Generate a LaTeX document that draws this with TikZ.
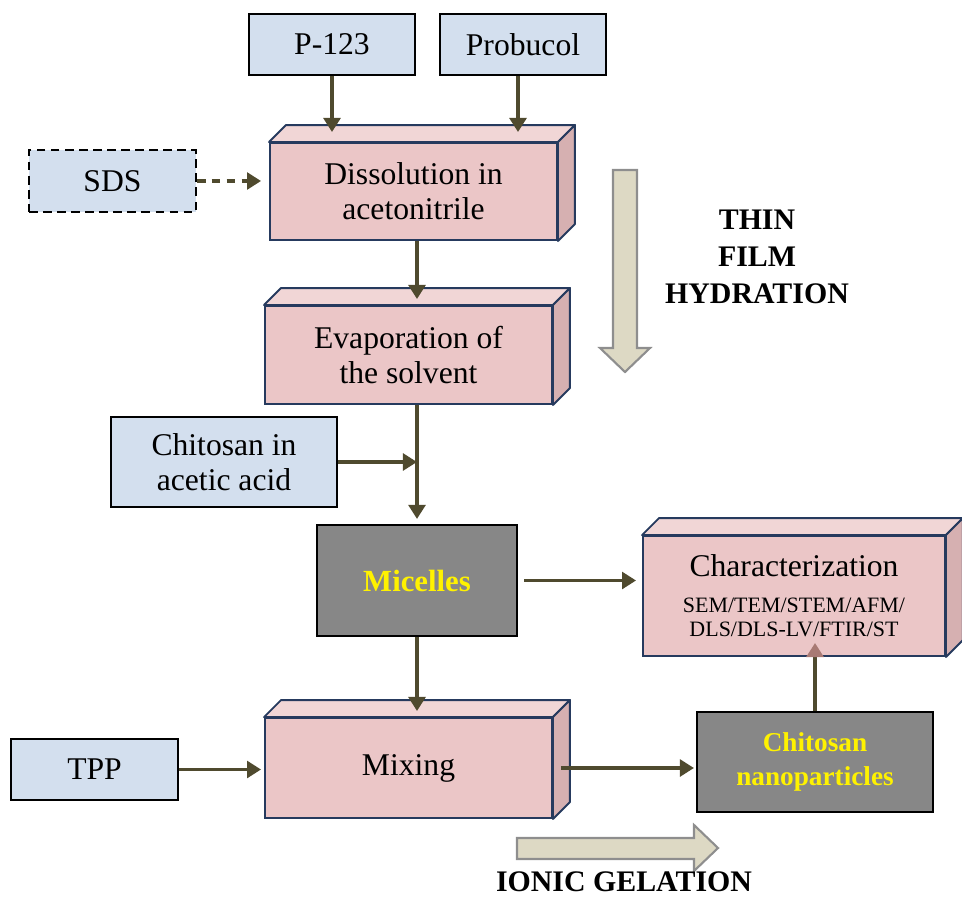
\documentclass[tikz,border=0pt]{standalone}
\usepackage{fontspec}
\setmainfont{Liberation Serif}
\usetikzlibrary{arrows.meta}

\definecolor{inblue}{HTML}{D3DFEE}
\definecolor{stepfront}{HTML}{EBC6C7}
\definecolor{steptop}{HTML}{F1D6D6}
\definecolor{stepside}{HTML}{D6B0B1}
\definecolor{stepline}{HTML}{263A5E}
\definecolor{flowc}{HTML}{4F4A2E}
\definecolor{tipc}{HTML}{A87A74}
\definecolor{bigfill}{HTML}{DDD9C4}
\definecolor{bigline}{HTML}{8E8E8E}
\definecolor{prodgray}{HTML}{878787}

% top and side faces of a step box
\newcommand{\cuboid}[1]{%
	\filldraw[stepface,fill=steptop] (#1.north west) -- ([shift={(17,-17)}]#1.north west) -- ([shift={(17,-17)}]#1.north east) -- (#1.north east) -- cycle;
	\filldraw[stepface,fill=stepside] (#1.north east) -- ([shift={(17,-17)}]#1.north east) -- ([shift={(17,-17)}]#1.south east) -- (#1.south east) -- cycle;
}

\begin{document}
\begin{tikzpicture}[x=0.02cm,y=-0.02cm,
	inbox/.style={draw=black,line width=0.9pt,fill=inblue,align=center,font=\fontsize{18}{20}\selectfont},
	stepbox/.style={draw=stepline,line width=1.1pt,fill=stepfront,align=center,font=\fontsize{18}{20}\selectfont},
	stepface/.style={draw=stepline,line width=1.1pt,line join=round},
	prodbox/.style={draw=black,line width=1.2pt,fill=prodgray,text=yellow,align=center},
	flow/.style={draw=flowc,line width=2pt,-{Triangle[length=8pt,width=9.5pt]}},
	bigarrow/.style={fill=bigfill,draw=bigline,line width=1.2pt},
	phase/.style={align=center,font=\fontsize{17}{21}\selectfont\bfseries}]
	\useasboundingbox (0,0) rectangle (962,898);
	
	% inputs
	\node[inbox,minimum width=3.32cm,minimum height=1.22cm] (p123) at (332,44.5) {P-123};
	\node[inbox,minimum width=3.32cm,minimum height=1.22cm] (probucol) at (523,44.5) {Probucol};
	\node[inbox,dashed,dash pattern=on 5pt off 3pt,minimum width=3.34cm,minimum height=1.24cm] (sds) at (112.5,181) {SDS};
	\node[inbox,minimum width=4.52cm,minimum height=1.80cm] (chit) at (224,462) {Chitosan in\\acetic acid};
	\node[inbox,minimum width=3.34cm,minimum height=1.22cm] (tpp) at (94.5,769.5) {TPP};
	
	% steps
	\node[stepbox,minimum width=5.74cm,minimum height=1.94cm] (diss) at (413.5,191.5) {Dissolution in\\acetonitrile};
	\node[stepbox,minimum width=5.74cm,minimum height=1.96cm] (evap) at (408.5,355) {Evaporation of\\the solvent};
	\node[stepbox,minimum width=5.74cm,minimum height=2.00cm] (mix) at (408.5,768) {Mixing};
	\node[stepbox,minimum width=6.04cm,minimum height=2.40cm] (charact) at (794,596) {Characterization\\{\fontsize{12.5}{14}\selectfont SEM/TEM/STEM/AFM/}\\[-6pt]{\fontsize{12.5}{14}\selectfont DLS/DLS-LV/FTIR/ST}};
	\cuboid{diss}
	\cuboid{evap}
	\cuboid{mix}
	\cuboid{charact}
	
	% products
	\node[prodbox,font=\fontsize{17.5}{19}\selectfont\bfseries,minimum width=4.00cm,minimum height=2.22cm] (mic) at (417,580.5) {Micelles};
	\node[prodbox,font=\fontsize{15.5}{19}\selectfont\bfseries,minimum width=4.72cm,minimum height=2.00cm] (nano) at (815,762) {Chitosan\\nanoparticles};
	
	% connectors
	\draw[flow] (p123.south) -- ([yshift=0.2cm]p123.south |- diss.north);
	\draw[flow] ([xshift=-0.1cm]probucol.south) -- ([xshift=-0.1cm,yshift=0.2cm]probucol.south |- diss.north);
	\draw[flow,dash pattern=on 5pt off 3.5pt] (sds.east) -- ([xshift=-0.16cm]sds.east -| diss.west);
	\draw[flow] (diss.south -| mic.north) -- ([yshift=0.12cm]evap.north -| mic.north);
	\draw[flow] (evap.south -| mic.north) -- ([yshift=0.1cm]mic.north);
	\draw[flow] (chit.east) -- (chit.east -| mic.north);
	\draw[flow] (mic.south) -- ([yshift=0.12cm]mix.north -| mic.south);
	\draw[flow,shorten <=0.12cm,shorten >=0.12cm] (mic.east) -- (mic.east -| charact.west);
	\draw[flow] (tpp.east) -- ([xshift=-0.06cm]tpp.east -| mix.west);
	\draw[flow] ([xshift=0.16cm]mix.east) -- ([xshift=-0.04cm]mix.east -| nano.west);
	\draw[flow,-{Triangle[length=8pt,width=9.5pt,color=tipc]}] (nano.north) -- ([yshift=0.28cm]nano.north |- charact.south);
	
	% process arrows
	\filldraw[bigarrow] (613,170) -- (637,170) -- (637,348) -- (650,348) -- (625,372) -- (600,348) -- (613,348) -- cycle;
	\filldraw[bigarrow] (517,838) -- (694,838) -- (694,825) -- (718,848) -- (694,871) -- (694,859) -- (517,859) -- cycle;
	\node[phase] (thin) at (757,257) {THIN\\FILM\\HYDRATION};
	\node[phase] (ionic) at (624,882) {IONIC GELATION};
	
\end{tikzpicture}
\end{document}
